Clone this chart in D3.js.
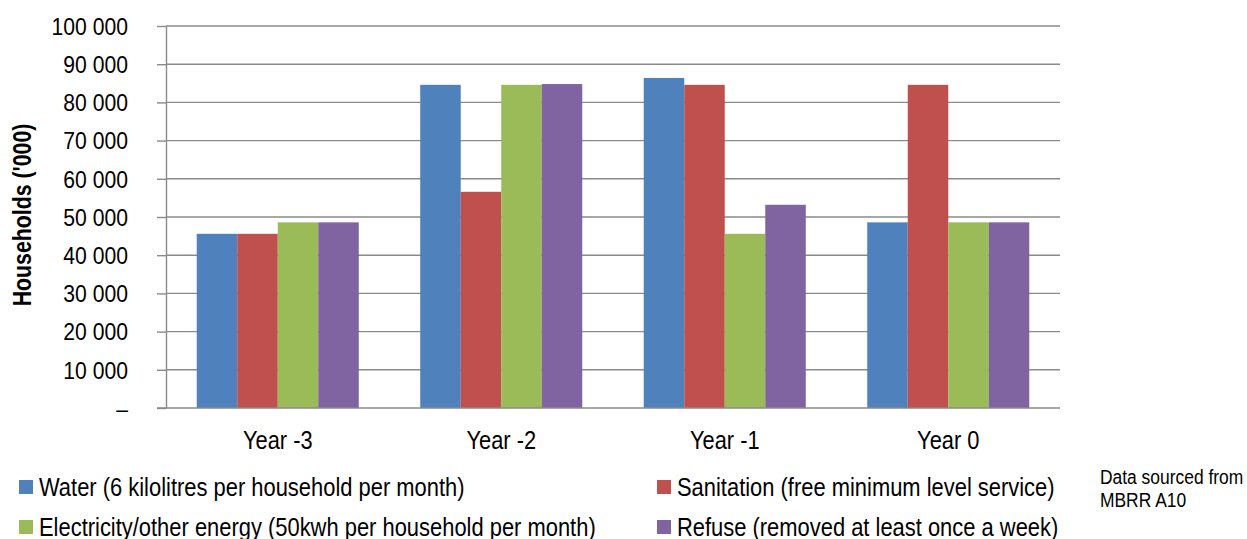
<!DOCTYPE html>
<html>
<head>
<meta charset="utf-8">
<script src="https://cdn.jsdelivr.net/npm/d3@7"></script>
<style>
  html, body { margin: 0; padding: 0; background: #fff; }
  svg { display: block; }
  text { font-family: "Liberation Sans", Arial, sans-serif; fill: #000; }
</style>
</head>
<body>
<svg id="chart" width="1247" height="539"></svg>
<script>
// Free basic services, households ('000)
const years = ["Year -3", "Year -2", "Year -1", "Year 0"];
const seriesNames = [
  "Water (6 kilolitres per household per month)",
  "Sanitation (free minimum level service)",
  "Electricity/other energy (50kwh per household per month)",
  "Refuse (removed at least once a week)"
];
const water       = [45600, 84600, 86400, 48600];
const sanitation  = [45600, 56600, 84600, 84600];
const electricity = [48600, 84600, 45600, 48600];
const refuse      = [48600, 84800, 53200, 48600];
const yTicks = [0, 10000, 20000, 30000, 40000, 50000, 60000, 70000, 80000, 90000, 100000];
const colors = ["#4F81BD", "#C0504D", "#9BBB59", "#8064A2"];

const seriesValues = [water, sanitation, electricity, refuse];
const svg = d3.select("#chart");

const plot = { left: 166, right: 1060, top: 26, bottom: 408 };
// condensed look: horizontal squeeze applied to the regular sans face
const narrow = 0.84;

const y = d3.scaleLinear().domain([0, 100000]).range([plot.bottom, plot.top]);
const x0 = d3.scaleBand().domain(years).range([plot.left, plot.right])
  .paddingInner(0.275).paddingOuter(0.1375);
const x1 = d3.scaleBand().domain(d3.range(seriesNames.length)).range([0, x0.bandwidth()]);

const fmt = v => v === 0 ? "\u2013" : d3.format(",")(v).replace(/,/g, " ");

// gridlines
svg.append("g")
  .selectAll("line")
  .data(yTicks.filter(v => v > 0))
  .join("line")
  .attr("x1", plot.left).attr("x2", plot.right)
  .attr("y1", d => y(d)).attr("y2", d => y(d))
  .attr("stroke", "#8a8a8a").attr("stroke-width", 1.4);

// bars
const groups = svg.append("g")
  .selectAll("g")
  .data(years)
  .join("g")
  .attr("transform", d => `translate(${x0(d)},0)`);

groups.selectAll("rect")
  .data((d, i) => seriesValues.map((vals, s) => ({ s, v: vals[i] })))
  .join("rect")
  .attr("x", d => x1(d.s))
  .attr("width", x1.bandwidth())
  .attr("y", d => y(d.v))
  .attr("height", d => y(0) - y(d.v))
  .attr("fill", d => colors[d.s]);

// y axis
const yAxis = d3.axisLeft(y).tickValues(yTicks).tickFormat(fmt)
  .tickSize(9).tickPadding(29).tickSizeOuter(0);
const gy = svg.append("g").attr("transform", `translate(${plot.left},0)`).call(yAxis);
gy.select(".domain").attr("stroke", "#8a8a8a").attr("stroke-width", 1.4);
gy.selectAll(".tick line").attr("stroke", "#8a8a8a").attr("stroke-width", 1.4);
gy.selectAll(".tick text")
  .attr("x", 0)
  .attr("dy", "0.36em")
  .attr("transform", "translate(-38,0) scale(0.92,1)")
  .style("font-family", '"Liberation Sans", Arial, sans-serif')
  .attr("font-size", 23).attr("fill", "#000");

// x axis baseline
svg.append("line")
  .attr("x1", plot.left - 9).attr("x2", plot.right)
  .attr("y1", y(0)).attr("y2", y(0))
  .attr("stroke", "#8a8a8a").attr("stroke-width", 1.6);

// category labels
svg.append("g")
  .selectAll("text")
  .data(years)
  .join("text")
  .attr("transform", d => `translate(${x0(d) + x0.bandwidth() / 2},449) scale(${narrow},1)`)
  .attr("text-anchor", "middle")
  .attr("font-size", 26)
  .text(d => d);

// y title
svg.append("text")
  .attr("transform", `translate(31,215) rotate(-90) scale(0.82,1)`)
  .attr("text-anchor", "middle")
  .attr("font-size", 26)
  .attr("font-weight", "bold")
  .text("Households ('000)");

// legend
const legendPos = [
  { x: 19, y: 480 }, { x: 657, y: 480 },
  { x: 19, y: 520 }, { x: 657, y: 520 }
];
const legend = svg.append("g")
  .selectAll("g")
  .data(seriesNames)
  .join("g")
  .attr("transform", (d, i) => `translate(${legendPos[i].x},${legendPos[i].y})`);
legend.append("rect")
  .attr("width", 14).attr("height", 14)
  .attr("fill", (d, i) => colors[i]);
legend.append("text")
  .attr("transform", "translate(20,15.5) scale(0.86,1)")
  .attr("font-size", 25.5)
  .text(d => d);

// source note
const note = svg.append("text")
  .attr("transform", "translate(1100,0) scale(0.83,1)")
  .attr("font-size", 21);
note.append("tspan").attr("x", 0).attr("y", 484).text("Data sourced from");
note.append("tspan").attr("x", 0).attr("y", 507).text("MBRR A10");
</script>
</body>
</html>
